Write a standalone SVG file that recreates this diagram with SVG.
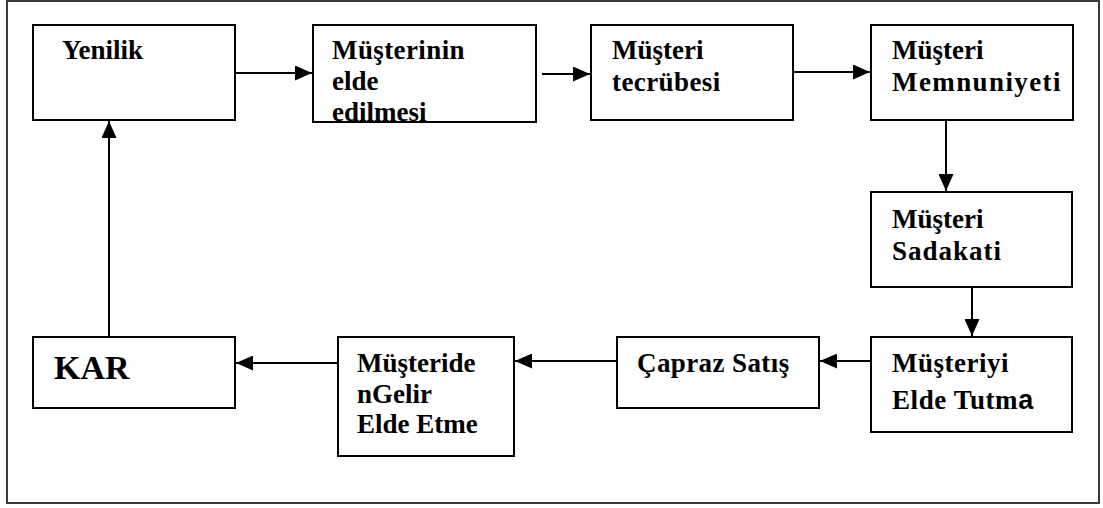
<svg xmlns="http://www.w3.org/2000/svg" width="1103" height="508" viewBox="0 0 1103 508">
  <style>
    .frame { fill: none; stroke: #3a3a3a; stroke-width: 2; }
    .box { fill: #ffffff; stroke: #000000; stroke-width: 2; }
    .link { fill: none; stroke: #000000; stroke-width: 2; marker-end: url(#head); }
  </style>
  <defs>
    <marker id="head" viewBox="0 0 17 15" refX="17" refY="7.5" markerWidth="17" markerHeight="15" markerUnits="userSpaceOnUse" orient="auto">
      <path d="M0,0 L17,7.5 L0,15 Z" fill="#000000"/>
    </marker>
  </defs>

  <!-- outer frame -->
  <rect class="frame" x="7" y="1" width="1092" height="502"/>

  <g id="connectors">
    <line class="link" x1="236" y1="73" x2="312" y2="73"/>
    <line class="link" x1="542" y1="74" x2="590" y2="74"/>
    <line class="link" x1="794" y1="72" x2="870" y2="72"/>
    <line class="link" x1="946" y1="121" x2="946" y2="191"/>
    <line class="link" x1="972" y1="288" x2="972" y2="336"/>
    <line class="link" x1="870" y1="361" x2="820" y2="361"/>
    <line class="link" x1="616" y1="361" x2="515" y2="361"/>
    <line class="link" x1="337" y1="363" x2="236" y2="363"/>
    <line class="link" x1="109" y1="336" x2="109" y2="121"/>
  </g>

  <g font-family="Liberation Serif, Times New Roman, serif" font-weight="bold" font-size="27" fill="#000000">
    <g id="yenilik">
      <rect class="box" x="33" y="25" width="202" height="95"/>
      <text x="62" y="59">Yenilik</text>
    </g>

    <g id="musterinin-elde-edilmesi">
      <rect class="box" x="313" y="25" width="223" height="97"/>
      <text x="332" y="59" letter-spacing="0.4">Müşterinin</text>
      <text x="332" y="90">elde</text>
      <text x="332" y="121">edilmesi</text>
    </g>

    <g id="musteri-tecrubesi">
      <rect class="box" x="591" y="25" width="202" height="95"/>
      <text x="612" y="59">Müşteri</text>
      <text x="612" y="91" letter-spacing="0.4">tecrübesi</text>
    </g>

    <g id="musteri-memnuniyeti">
      <rect class="box" x="871" y="25" width="202" height="95"/>
      <text x="892" y="59">Müşteri</text>
      <text x="892" y="91" letter-spacing="1.4">Memnuniyeti</text>
    </g>

    <g id="musteri-sadakati">
      <rect class="box" x="871" y="192" width="201" height="95"/>
      <text x="892" y="228">Müşteri</text>
      <text x="892" y="260" letter-spacing="1">Sadakati</text>
    </g>

    <g id="musteriyi-elde-tutma">
      <rect class="box" x="871" y="337" width="201" height="95"/>
      <text x="892" y="372" letter-spacing="0.5">Müşteriyi</text>
      <text x="892" y="409" letter-spacing="0.6">Elde Tutm<tspan font-family="Liberation Sans, Arial, sans-serif">a</tspan></text>
    </g>

    <g id="capraz-satis">
      <rect class="box" x="617" y="337" width="202" height="71"/>
      <text x="637" y="372" letter-spacing="0.4">Çapraz Satış</text>
    </g>

    <g id="musteriden-gelir-elde-etme">
      <rect class="box" x="338" y="337" width="176" height="119"/>
      <text x="357" y="372">Müşteride</text>
      <text x="357" y="403">nGelir</text>
      <text x="357" y="433">Elde Etme</text>
    </g>

    <g id="kar">
      <rect class="box" x="33" y="337" width="202" height="71"/>
      <text x="54" y="379" font-size="34">KAR</text>
    </g>
  </g>
</svg>
